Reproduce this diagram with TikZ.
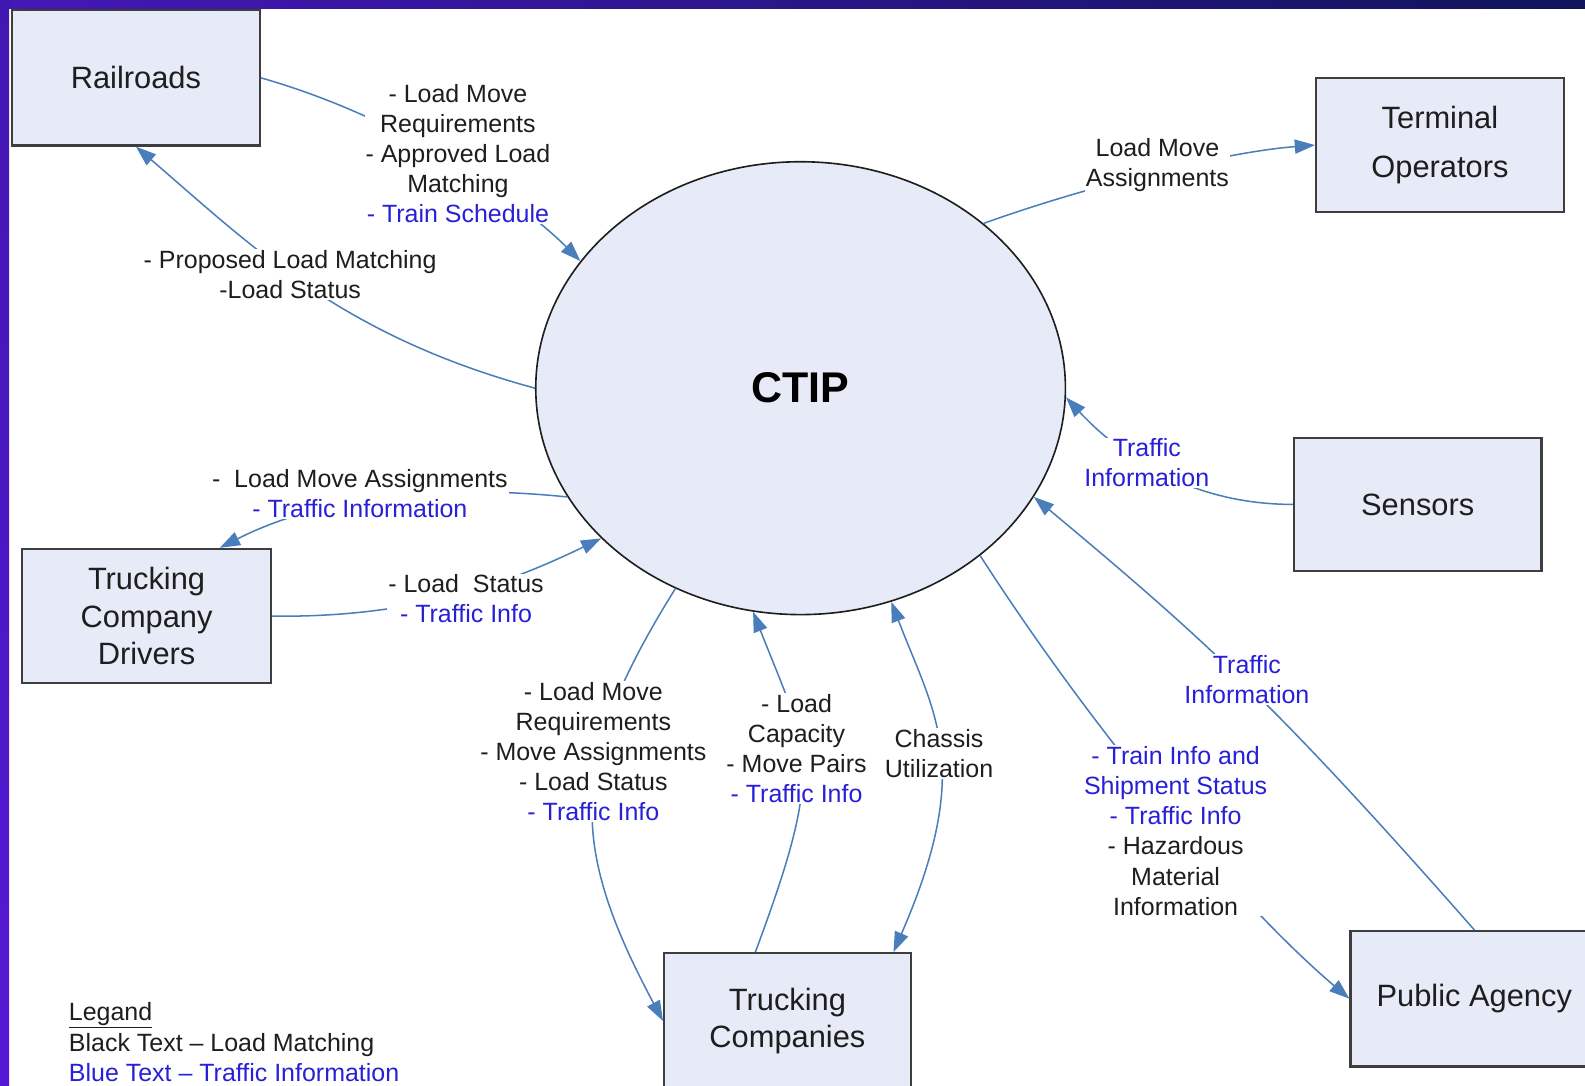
\documentclass[tikz,border=0pt]{standalone}
\usepackage{fontspec}
\setmainfont{Liberation Sans}
\usetikzlibrary{shapes.geometric,arrows.meta}
\definecolor{boxfill}{RGB}{230,235,247}
\definecolor{boxgrey}{RGB}{62,62,62}
\definecolor{flowblue}{RGB}{74,126,187}
\definecolor{txtblue}{RGB}{40,32,214}
\definecolor{ink}{RGB}{30,30,30}
\definecolor{framenavy}{RGB}{16,20,90}
\definecolor{framepurple}{RGB}{86,24,214}
\newcommand{\bluetext}[1]{{\color{txtblue}#1}}

\begin{document}
\begin{tikzpicture}[x=1pt,y=-1pt]
        \tikzstyle{entity}=[rectangle, draw=boxgrey, line width=2.2pt, fill=boxfill, minimum width=245pt, minimum height=134pt, inner sep=0pt, align=center, text=ink, font=\fontsize{30.5}{37}\selectfont]
        \tikzstyle{info}=[fill=white, inner sep=1pt, align=center, text=ink, font=\fontsize{24.7}{29.8}\selectfont]
        \tikzstyle{flow}=[draw=flowblue, line width=1.5pt, -{Triangle[length=20pt,width=14pt]}]
        \useasboundingbox (0,0) rectangle (1568,1074);
        \clip (0,0) rectangle (1568,1074);
        \fill[white] (0,0) rectangle (1568,1074);
        \fill[left color=framepurple!75!framenavy, right color=framenavy] (0,0) rectangle (1568,8);
        \fill[top color=framepurple!70!framenavy, bottom color=framepurple] (0,0) rectangle (9,1074);
        % the parties around the hub
        \node[entity] (rail) at (134.5,77) {Railroads};
        \node[entity, minimum height=133pt, font=\fontsize{30.5}{48}\selectfont] (term) at (1424.5,143.5) {Terminal\\Operators};
        \node[entity, minimum height=132pt] (sens) at (1402.5,499) {Sensors};
        \node[entity, minimum width=246pt, minimum height=133pt] (drv) at (145,609.5) {Trucking\\Company\\Drivers};
        \node[entity, minimum width=244pt] (trk) at (779,1010) {Trucking\\Companies};
        \node[entity] (pub) at (1458.5,988) {Public Agency};
        \node[ellipse, draw=ink, line width=1.6pt, fill=boxfill, minimum width=524pt, minimum height=448pt, inner sep=0pt, text=black, font=\fontsize{42.5}{50}\selectfont\bfseries] (ctip) at (792,384) {CTIP};
        % data flows
        \draw[flow] (rail.east) .. controls +(144,41) and +(-57,-57) .. (ctip.150);
        \draw[flow] (ctip.west) .. controls +(-192,-52) and +(114,98) .. (rail.south);
        \draw[flow] (ctip.42) .. controls +(103,-37) and +(-90,7) .. (term.west);
        \draw[flow] (ctip.205) .. controls +(-149,-15) and +(89,-45) .. (drv.43);
        \draw[flow] (drv.east) .. controls +(150,2) and +(-81,39) .. (ctip.217);
        \draw[flow] (ctip.238) .. controls +(-106,170) and +(-94,-176) .. (trk.west);
        \draw[flow] (trk.115) .. controls +(70,-188) and +(55,140) .. (ctip.258);
        \draw[flow, {Triangle[length=20pt,width=14pt]}-{Triangle[length=20pt,width=14pt]}] (ctip.293) .. controls +(43,112) and +(80,-184) .. (trk.33);
        \draw[flow] (ctip.317) .. controls +(108,168) and +(-114,-97) .. (pub.west);
        \draw[flow] (sens.west) .. controls +(-100,0) and +(54,58) .. (ctip.358);
        \draw[flow] (pub.north) .. controls +(-198,-225) and +(169,141) .. (ctip.335);
        % flow labels
        \node[info] (lrail) at (453,152) {- Load Move\\Requirements\\- Approved Load\\Matching\\\bluetext{- Train Schedule}};
        \node[info] (lstatus) at (287,271.5) {- Proposed Load Matching\\-Load Status};
        \node[info] (lterm) at (1145,163) {Load Move\\Assignments};
        \node[info] (ldrvout) at (356,488.5) {-\ \ Load Move Assignments\\\bluetext{- Traffic Information}};
        \node[info] (ldrvin) at (461,592.5) {- Load\ \ Status\\\bluetext{- Traffic Info}};
        \node[info] (ltrkout) at (587,743.5) {- Load Move\\Requirements\\- Move Assignments\\- Load Status\\\bluetext{- Traffic Info}};
        \node[info] (ltrkin) at (788,740.5) {- Load\\Capacity\\- Move Pairs\\\bluetext{- Traffic Info}};
        \node[info] (lchassis) at (929,745.5) {Chassis\\Utilization};
        \node[info] (lpub) at (1163,822) {\bluetext{- Train Info and}\\\bluetext{Shipment Status}\\\bluetext{- Traffic Info}\\- Hazardous\\Material\\Information};
        \node[info] (lsens) at (1134.5,458) {\bluetext{Traffic}\\\bluetext{Information}};
        \node[info] (lpubin) at (1233.5,672) {\bluetext{Traffic}\\\bluetext{Information}};
        \node[info, fill=none, align=left, anchor=west] (legend) at (67,1031) {\underline{Legand}\\Black Text – Load Matching\\\bluetext{Blue Text – Traffic Information}};
\end{tikzpicture}
\end{document}
